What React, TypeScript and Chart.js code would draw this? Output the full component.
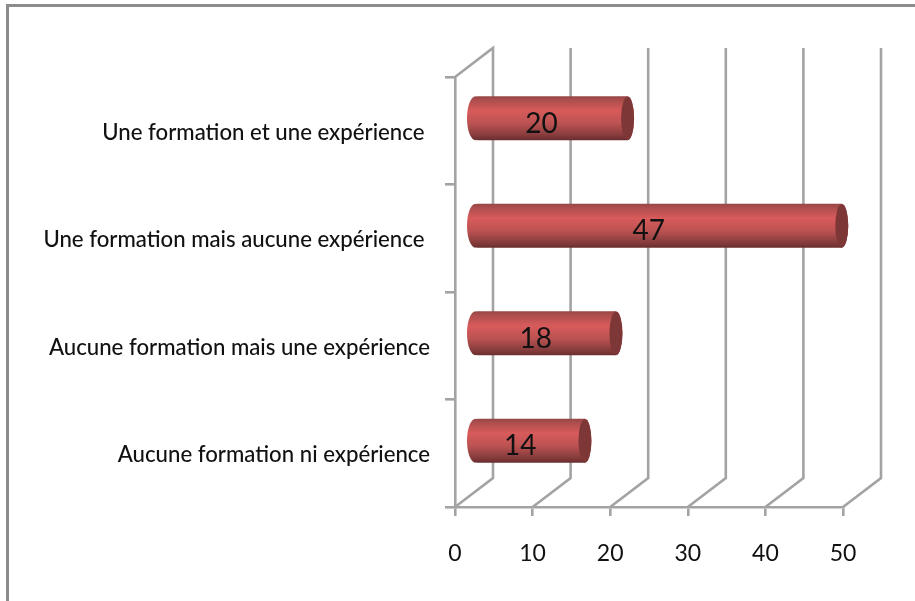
import React, { useEffect, useRef } from "react";
import { Chart, registerables } from "chart.js";

Chart.register(...registerables);

const categories = [
  "Une formation et une expérience ",
  "Une formation mais aucune expérience ",
  "Aucune formation mais une expérience",
  "Aucune formation ni expérience",
];
const barValues = [19.6, 47.2, 18.1, 14.1];
const xTicks = [0, 10, 20, 30, 40, 50];

const FONT = "Lato, Carlito, 'Open Sans', sans-serif";
const GRID = "#a3a3a3";
const DEPTH_X = 38;
const DEPTH_Y = -29;
const BAR_DX = 20.5;
const BAR_DY = -12.5;
const BAR_H = 44;

function barGradient(ctx: CanvasRenderingContext2D, cy: number) {
  const top = cy - BAR_H / 2;
  const g = ctx.createLinearGradient(0, top, 0, top + BAR_H);
  g.addColorStop(0, "#964545");
  g.addColorStop(0.08, "#ab4d4d");
  g.addColorStop(0.33, "#d95b5b");
  g.addColorStop(0.62, "#bb5252");
  g.addColorStop(0.88, "#873c3c");
  g.addColorStop(1, "#6a2d2d");
  return g;
}

const depthPlugin = {
  id: "depth",
  beforeDatasetsDraw(chart: any) {
    const { ctx, scales, chartArea } = chart;
    ctx.save();
    ctx.strokeStyle = GRID;
    ctx.lineWidth = 2.6;
    ctx.lineJoin = "miter";
    xTicks.forEach((v) => {
      const x = scales.x.getPixelForValue(v);
      ctx.beginPath();
      ctx.moveTo(x, chartArea.bottom);
      ctx.lineTo(x + DEPTH_X, chartArea.bottom + DEPTH_Y);
      ctx.lineTo(x + DEPTH_X, chartArea.top + DEPTH_Y);
      if (v === 0) ctx.lineTo(x, chartArea.top);
      ctx.stroke();
    });
    ctx.restore();
  },
  beforeDatasetDraw(chart: any) {
    chart.ctx.save();
    chart.ctx.translate(BAR_DX, BAR_DY);
  },
  afterDatasetDraw(chart: any, args: any) {
    const { ctx, scales } = chart;
    const meta = chart.getDatasetMeta(args.index);
    meta.data.forEach((el: any) => {
      const x0 = scales.x.getPixelForValue(0);
      const y = el.y;
      const rY = el.height / 2;
      ctx.fillStyle = barGradient(ctx, y);
      ctx.beginPath();
      ctx.ellipse(x0, y, 8.5, rY, 0, 0, Math.PI * 2);
      ctx.fill();
      ctx.beginPath();
      ctx.ellipse(el.x, y, 6.5, rY, 0, 0, Math.PI * 2);
      ctx.fill();
      ctx.fillStyle = "#7e3737";
      ctx.beginPath();
      ctx.ellipse(el.x, y, 6.5, rY - 0.5, 0, 0, Math.PI * 2);
      ctx.fill();
    });
    ctx.restore();
    ctx.save();
    ctx.fillStyle = "#111111";
    ctx.font = `28px ${FONT}`;
    ctx.textAlign = "center";
    ctx.textBaseline = "middle";
    meta.data.forEach((el: any, i: number) => {
      const v = barValues[i];
      const x = scales.x.getPixelForValue(v / 2) + 10.5;
      ctx.fillText(String(Math.round(v)), x, el.y + BAR_DY + 5.5);
    });
    ctx.restore();
  },
};

export default function App() {
  const ref = useRef<HTMLCanvasElement>(null);
  useEffect(() => {
    const chart = new Chart(ref.current!, {
      type: "bar",
      data: {
        labels: categories,
        datasets: [
          {
            data: barValues,
            categoryPercentage: 1,
            barPercentage: 0.41,
            borderWidth: 0,
            backgroundColor: (c: any) => {
              const s = c.chart.scales.y;
              const cy = s && c.dataIndex !== undefined ? s.getPixelForValue(c.dataIndex) : NaN;
              if (!Number.isFinite(cy)) return "#c05454";
              return barGradient(c.chart.ctx, cy);
            },
          } as any,
        ],
      },
      options: {
        indexAxis: "y",
        animation: false,
        responsive: false,
        clip: false as any,
        layout: { padding: { top: 77, right: 72, left: 0, bottom: 0 } },
        plugins: { legend: { display: false }, tooltip: { enabled: false } },
        scales: {
          x: {
            type: "linear",
            min: 0,
            max: 50,
            afterFit: (s: any) => { s.height = 94; },
            afterBuildTicks: (s: any) => { s.ticks = xTicks.map((value) => ({ value })); },
            grid: { drawOnChartArea: false, color: GRID, lineWidth: 2.6, tickLength: 9 },
            border: { color: GRID, width: 2.6 },
            ticks: { color: "#111111", padding: 24, maxRotation: 0, font: { family: FONT, size: 23 } },
          },
          y: {
            type: "category",
            afterFit: (s: any) => { s.width = 455; },
            grid: { drawOnChartArea: false, color: GRID, lineWidth: 2.6, tickLength: 10, offset: true },
            border: { color: GRID, width: 2.6 },
            ticks: { color: "#111111", padding: 15, labelOffset: 2, font: { family: FONT, size: 22.2, weight: 500 } },
          },
        },
      } as any,
      plugins: [depthPlugin as any],
    });
    return () => chart.destroy();
  }, []);
  return (
    <div style={{ position: "fixed", left: 0, top: 0, width: 915, height: 601, background: "#fff", overflow: "hidden" }}>
      <canvas ref={ref} width={915} height={601} style={{ display: "block", filter: "blur(0.4px)" }} />
      <div style={{ position: "absolute", left: 6, top: 4, width: 1000, height: 1000, borderLeft: "3px solid #8c8c8c", borderTop: "3px solid #8c8c8c" }} />
    </div>
  );
}
